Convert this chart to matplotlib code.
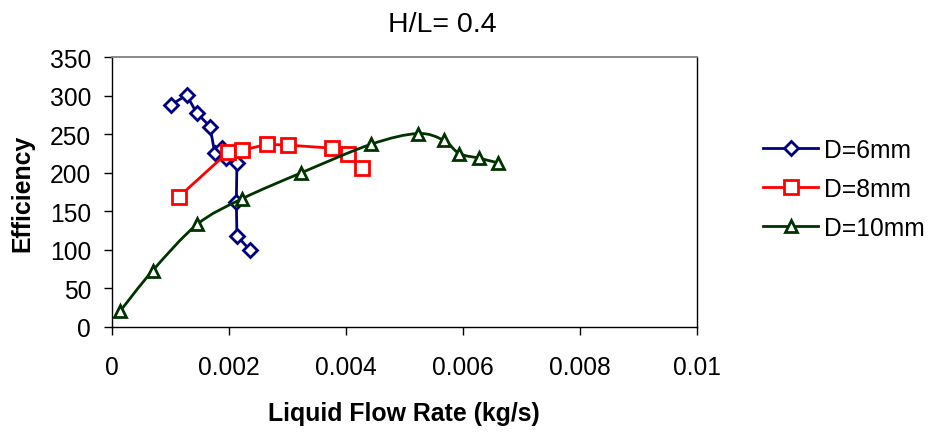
import numpy as np
import matplotlib
matplotlib.use('Agg')
import matplotlib.pyplot as plt
from matplotlib.path import Path
from matplotlib.patches import PathPatch
from matplotlib.lines import Line2D

plt.rcParams['font.family'] = ['Liberation Sans', 'DejaVu Sans']

# datos
x_d6 = [0.00101, 0.00128, 0.00145, 0.00168, 0.00176, 0.00188, 0.00196, 0.00214, 0.00213, 0.00214, 0.00236]
y_d6 = [288, 301, 278, 260, 226, 232, 219, 213, 162, 118, 100]

x_d8 = [0.00115, 0.00199, 0.00222, 0.00265, 0.00301, 0.00376, 0.00404, 0.00427]
y_d8 = [169, 227, 229, 237, 236, 232, 224, 206]

x_d10 = [0.00014, 0.00070, 0.00146, 0.00222, 0.00324, 0.00443, 0.00523, 0.00568, 0.00594, 0.00628, 0.00660]
y_d10 = [20, 73, 133, 166, 200, 237, 251, 242, 225, 219, 213]

labels = ['D=6mm', 'D=8mm', 'D=10mm']
colores = ['#000080', '#ff0000', '#003300']

fig = plt.figure(figsize=(9.32, 4.35), dpi=100)
ax = fig.add_axes([0.1199, 0.2464, 0.6276, 0.6196])

# estilos de cada serie
est6 = dict(color=colores[0], lw=2, marker='D', ms=7, mfc='white', mec=colores[0], mew=2)
est8 = dict(color=colores[1], lw=2, marker='s', ms=9.6, mfc='white', mec=colores[1], mew=2)
est10 = dict(color=colores[2], lw=2, marker='^', ms=9, mfc='white', mec=colores[2], mew=2)

# D=6mm y D=8mm con lineas rectas
ax.plot(x_d6, y_d6, zorder=3, **est6)
ax.plot(x_d8, y_d8, zorder=4, **est8)

# D=10mm con curva suavizada (bezier tipo Catmull-Rom)
P = np.column_stack([x_d10, y_d10])
Pe = np.vstack([P[0], P, P[-1]])
verts = [tuple(P[0])]
codes = [Path.MOVETO]
for i in range(len(P) - 1):
    c1 = Pe[i + 1] + (Pe[i + 2] - Pe[i]) / 6
    c2 = Pe[i + 2] - (Pe[i + 3] - Pe[i + 1]) / 6
    verts += [tuple(c1), tuple(c2), tuple(P[i + 1])]
    codes += [Path.CURVE4] * 3
ax.add_patch(PathPatch(Path(verts, codes), fill=False, ec=colores[2], lw=2, zorder=5))
ax.plot(x_d10, y_d10, zorder=6, **dict(est10, ls='none'))

ax.set_xlim(0, 0.01)
ax.set_ylim(0, 350)
ax.set_xticks([0, 0.002, 0.004, 0.006, 0.008, 0.01])
ax.set_xticklabels(['0', '0.002', '0.004', '0.006', '0.008', '0.01'])
ax.set_yticks(np.arange(0, 351, 50))
ax.tick_params(axis='both', labelsize=17.7, length=6, width=1, direction='out')
ax.tick_params(axis='x', pad=14)
ax.tick_params(axis='y', pad=9)

for s in ['left', 'bottom', 'right']:
    ax.spines[s].set_color('black')
    ax.spines[s].set_linewidth(1)
ax.spines['top'].set_color('#808080')
ax.spines['top'].set_linewidth(1.3)

ax.set_xlabel('Liquid Flow Rate (kg/s)', fontsize=17.9, fontweight='bold', labelpad=16)
ax.set_ylabel('Efficiency', fontsize=17.9, fontweight='bold')
ax.yaxis.set_label_coords(-0.133, 0.5)

fig.text(0.475, 0.9257, 'H/L= 0.4', fontsize=20.5, ha='center', va='baseline')

handles = [Line2D([], [], **est6), Line2D([], [], **est8), Line2D([], [], **est10)]
fig.legend(handles, labels, loc='upper left', bbox_to_anchor=(763 / 932, 1 - 139 / 435),
           frameon=False, fontsize=17.7, handlelength=2.24, handletextpad=0.25,
           labelspacing=0.6, borderpad=0, borderaxespad=0)

fig.savefig('out.png', dpi=100)
